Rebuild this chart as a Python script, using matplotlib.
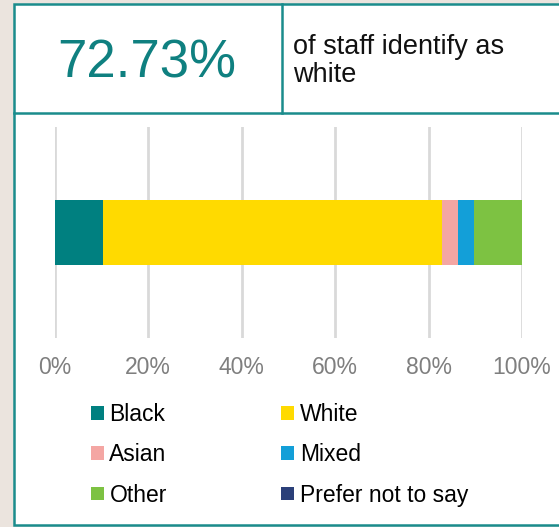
import matplotlib.pyplot as plt
from matplotlib.patches import Rectangle
from matplotlib.lines import Line2D

plt.rcParams["font.family"] = ["Liberation Sans", "DejaVu Sans"]

# staff ethnicity breakdown, % of all staff
groups = ["Black", "White", "Asian", "Mixed", "Other", "Prefer not to say"]
shares = [10.23, 72.73, 3.41, 3.41, 10.23, 0.0]
colours = ["#008080", "#FFDA00", "#F4A6A3", "#139FD8", "#7DC242", "#2B4079"]
tick_values = [0, 20, 40, 60, 80, 100]
tick_labels = ["0%", "20%", "40%", "60%", "80%", "100%"]

headline = "72.73%"
caption = "of staff identify as\nwhite"

teal = "#1A8C8C"

fig = plt.figure(figsize=(5.59, 5.27), dpi=100, facecolor="#EBE4DE")

# white card with teal border and header dividers
fig.patches.append(Rectangle((0.0242, 0.0047), 1.0, 0.9868, transform=fig.transFigure,
                             facecolor="white", edgecolor=teal, linewidth=1.8, zorder=-10))
fig.lines.append(Line2D([0.0242, 1.0], [0.7865, 0.7865], transform=fig.transFigure,
                        color=teal, linewidth=1.8))
fig.lines.append(Line2D([0.5045, 0.5045], [0.7865, 0.9915], transform=fig.transFigure,
                        color=teal, linewidth=1.8))

fig.text(0.262, 0.852, headline, ha="center", va="baseline", fontsize=38, color="#0F8080")
fig.text(0.524, 0.8444, caption, ha="left", va="baseline", fontsize=19.5,
         color="#111111", linespacing=1.1)

ax = fig.add_axes([0.0979, 0.3586, 0.836, 0.4004])
ax.set_facecolor("none")

left = 0
bars = []
for name, value, colour in zip(groups, shares, colours):
    bars.append(ax.barh(0, value, left=left, height=1.0, color=colour, label=name, zorder=3))
    left += value

ax.set_xlim(0, 100)
ax.set_ylim(-1.6, 1.6)
ax.set_xticks(tick_values)
ax.set_xticklabels(tick_labels)
ax.set_yticks([])
ax.tick_params(axis="x", length=0, pad=13, labelsize=16.5, labelcolor="#7F7F7F")
ax.grid(axis="x", color="#D9D9D9", linewidth=2, zorder=0)
for spine in ax.spines.values():
    spine.set_visible(False)

# legend reads across rows: reorder so the column-wise fill matches
order = [0, 2, 4, 1, 3, 5]
ax.legend([bars[i] for i in order], [groups[i] for i in order],
          loc="upper left", bbox_to_anchor=(0.163, 0.235), bbox_transform=fig.transFigure,
          ncol=2, frameon=False, fontsize=16.5, handlelength=0.55, handleheight=0.55,
          handletextpad=0.25, columnspacing=5.0, labelspacing=0.75, borderpad=0,
          borderaxespad=0)

fig.savefig("out.png", dpi=100, facecolor=fig.get_facecolor())
